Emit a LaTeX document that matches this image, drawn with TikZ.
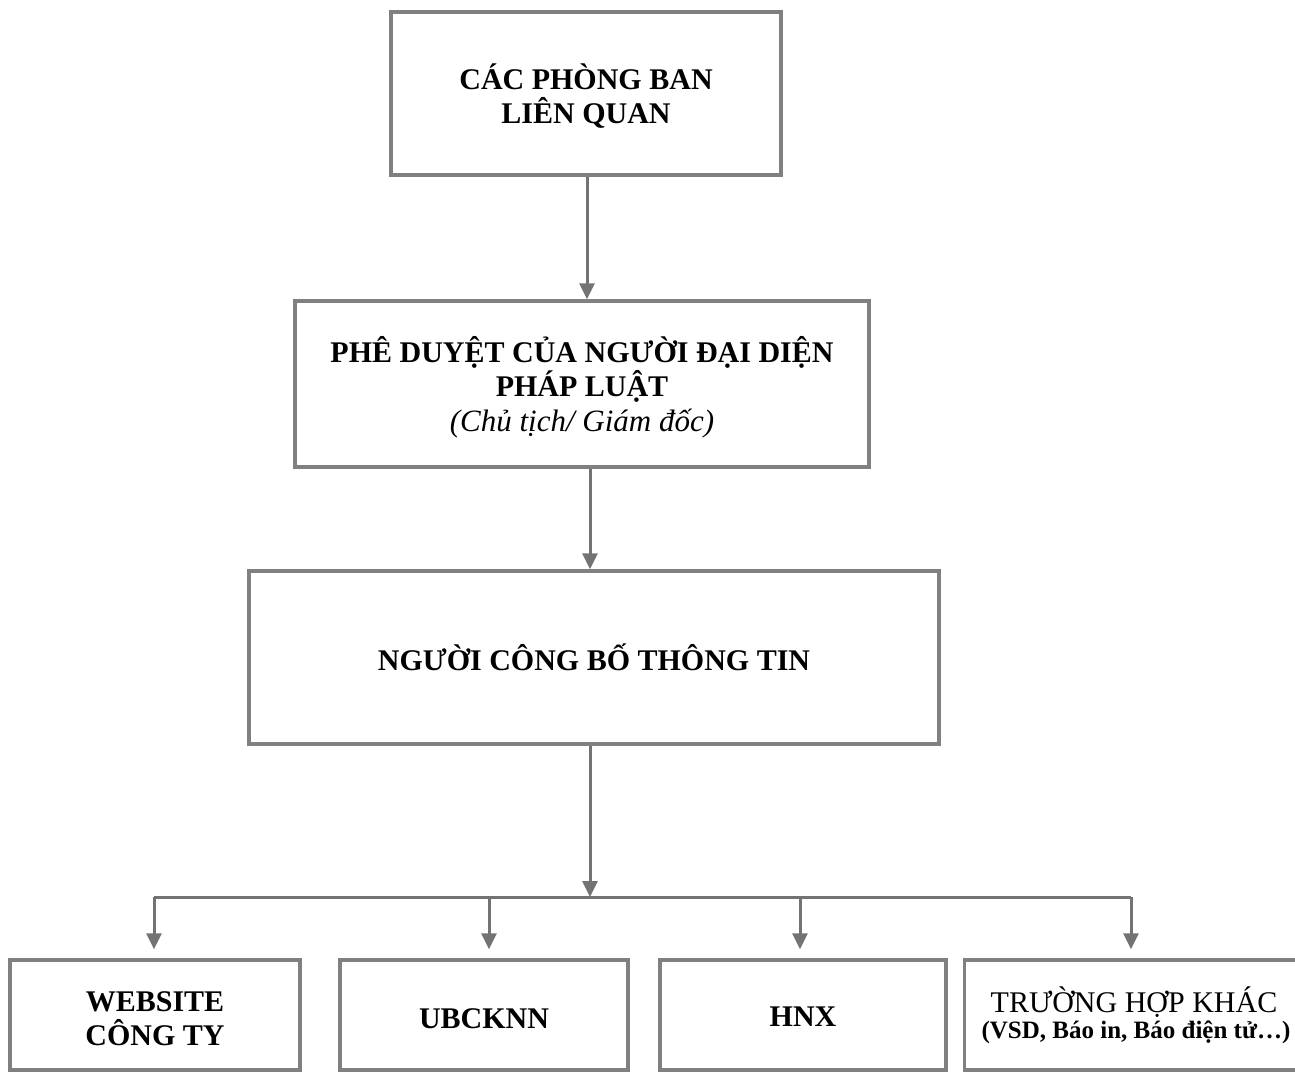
\documentclass[tikz,border=0pt]{standalone}
\usepackage{fontspec}
\setmainfont{Liberation Serif}
\usetikzlibrary{arrows.meta}
\definecolor{lin}{rgb}{0.45,0.45,0.45}
\definecolor{brd}{rgb}{0.50,0.50,0.50}
\tikzset{
  box/.style={draw=brd, line width=3.5pt, fill=white, align=center, inner sep=0pt,
    font=\fontsize{30}{34}\selectfont\bfseries},
  conn/.style={draw=lin, line width=3pt},
  arr/.style={conn, -{Triangle[width=15pt,length=16pt]}},
}
\begin{document}
\begin{tikzpicture}[x=1pt,y=-1pt]
\useasboundingbox (0,0) rectangle (1295,1073);
\node[box, minimum width=390pt, minimum height=163pt] (b1) at (586,93.5) {};
\node[font=\fontsize{30}{34}\selectfont\bfseries, align=center, inner sep=0pt] (t1) at (586,96)
  {CÁC PHÒNG BAN\\LIÊN QUAN};
\node[box, minimum width=574pt, minimum height=166pt] (b2) at (582,384) {};
\node[font=\fontsize{30}{34.5}\selectfont\bfseries, align=center, inner sep=0pt] (t2) at (582,387)
  {PHÊ DUYỆT CỦA NGƯỜI ĐẠI DIỆN\\PHÁP LUẬT\\{\mdseries\itshape\fontsize{31}{34.5}\selectfont (Chủ tịch/ Giám đốc)}};
\node[box, minimum width=690pt, minimum height=173pt] (b3) at (594,657.5)
  {NGƯỜI CÔNG BỐ THÔNG TIN};
\node[box, minimum width=290pt, minimum height=110pt] (d1) at (155,1015) {};
\node[font=\fontsize{30}{34}\selectfont\bfseries, align=center, inner sep=0pt] (t5) at (155,1019)
  {WEBSITE\\CÔNG TY};
\node[box, minimum width=288pt, minimum height=110pt] (d2) at (484,1015) {};
\node[font=\fontsize{30}{34}\selectfont\bfseries, inner sep=0pt] (t6) at (484,1019) {UBCKNN};
\node[box, minimum width=286pt, minimum height=110pt] (d3) at (803,1015) {};
\node[font=\fontsize{30}{34}\selectfont\bfseries, inner sep=0pt] (t7) at (803,1017) {HNX};
\node[box, minimum width=345pt, minimum height=110pt] (d4) at (1137,1015) {};
\node[font=\fontsize{30}{34}\selectfont, align=center, inner sep=0pt] (t4) at (1134,1002)
  {TRƯỜNG HỢP KHÁC};
\node[font=\fontsize{25}{30}\selectfont\bfseries, align=center, inner sep=0pt] (t4b) at (1136,1032)
  {(VSD, Báo in, Báo điện tử…)};

\coordinate (c1) at (587,0);
\coordinate (c2) at (590,0);
\coordinate (j) at (590,897);
\coordinate (x1) at (154,0);
\coordinate (x2) at (489,0);
\coordinate (x3) at (800,0);
\coordinate (x4) at (1131,0);

\draw[arr] (b1.south -| c1) -- (b2.north -| c1);
\draw[arr] (b2.south -| c2) -- (b3.north -| c2);
\draw[arr] (b3.south -| j) -- (j);
\draw[conn] (j -| x1) -- (j -| x4);
\draw[arr, shorten >=9pt] (j -| x1) -- (d1.north -| x1);
\draw[arr, shorten >=9pt] (j -| x2) -- (d2.north -| x2);
\draw[arr, shorten >=9pt] (j -| x3) -- (d3.north -| x3);
\draw[arr, shorten >=9pt] (j -| x4) -- (d4.north -| x4);
\end{tikzpicture}
\end{document}
